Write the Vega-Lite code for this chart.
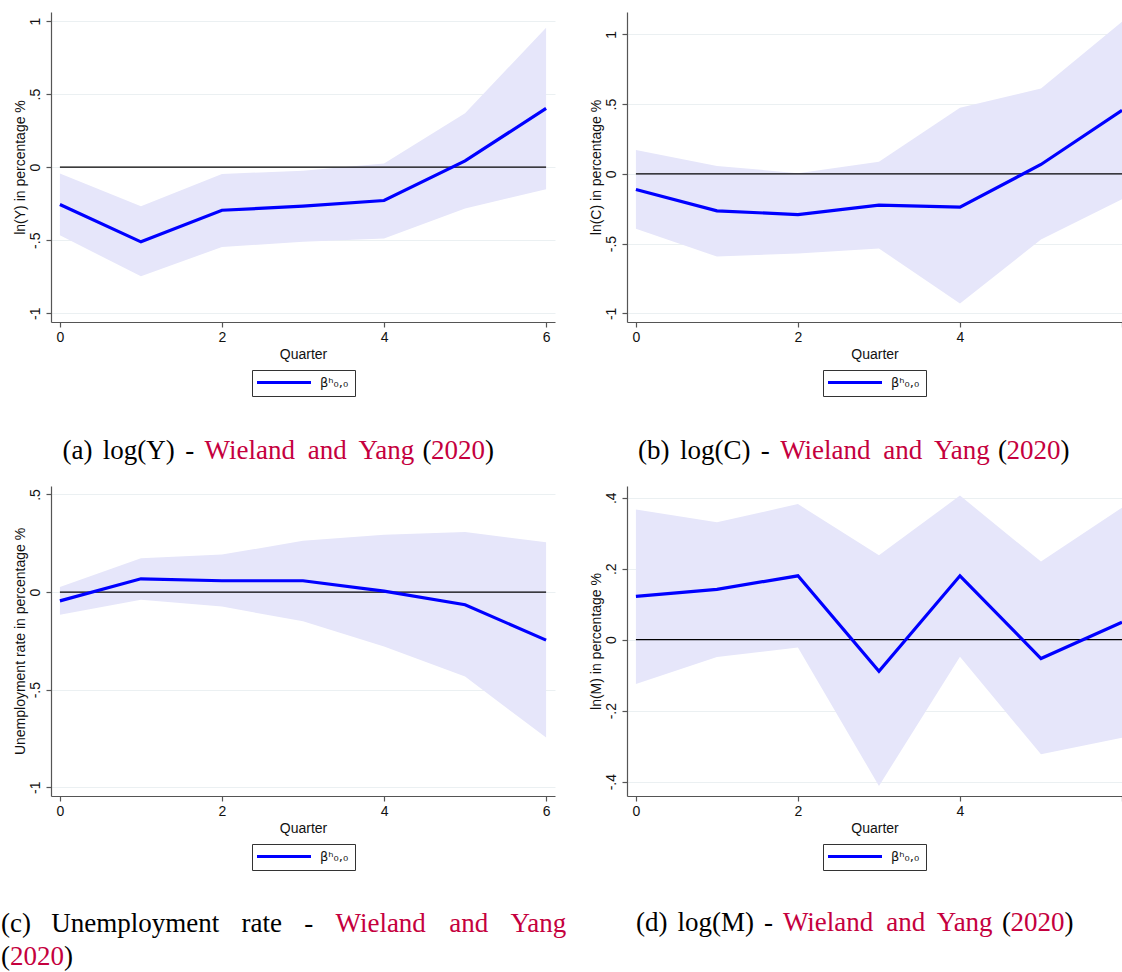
{
  "$schema": "https://vega.github.io/schema/vega-lite/v6.json",
  "background": "white",
  "padding": {"left": 0, "top": 12, "right": 0, "bottom": 0},
  "datasets": {
    "one": [{}],
    "ly": [
      {"q": 0, "est": -0.256, "lo": -0.466, "hi": -0.043},
      {"q": 1, "est": -0.511, "lo": -0.747, "hi": -0.267},
      {"q": 2, "est": -0.295, "lo": -0.546, "hi": -0.046},
      {"q": 3, "est": -0.267, "lo": -0.511, "hi": -0.025},
      {"q": 4, "est": -0.228, "lo": -0.489, "hi": 0.025},
      {"q": 5, "est": 0.043, "lo": -0.283, "hi": 0.368},
      {"q": 6, "est": 0.402, "lo": -0.151, "hi": 0.954}
    ],
    "lc": [
      {"q": 0, "est": -0.112, "lo": -0.394, "hi": 0.170},
      {"q": 1, "est": -0.265, "lo": -0.593, "hi": 0.057},
      {"q": 2, "est": -0.292, "lo": -0.571, "hi": 0.005},
      {"q": 3, "est": -0.225, "lo": -0.535, "hi": 0.086},
      {"q": 4, "est": -0.239, "lo": -0.929, "hi": 0.473},
      {"q": 5, "est": 0.067, "lo": -0.471, "hi": 0.612},
      {"q": 6, "est": 0.456, "lo": -0.182, "hi": 1.090}
    ],
    "ur": [
      {"q": 0, "est": -0.045, "lo": -0.116, "hi": 0.026},
      {"q": 1, "est": 0.068, "lo": -0.039, "hi": 0.173},
      {"q": 2, "est": 0.058, "lo": -0.074, "hi": 0.192},
      {"q": 3, "est": 0.058, "lo": -0.150, "hi": 0.263},
      {"q": 4, "est": 0.005, "lo": -0.279, "hi": 0.294},
      {"q": 5, "est": -0.065, "lo": -0.433, "hi": 0.308},
      {"q": 6, "est": -0.246, "lo": -0.745, "hi": 0.255}
    ],
    "lm": [
      {"q": 0, "est": 0.122, "lo": -0.125, "hi": 0.367},
      {"q": 1, "est": 0.142, "lo": -0.049, "hi": 0.331},
      {"q": 2, "est": 0.180, "lo": -0.022, "hi": 0.382},
      {"q": 3, "est": -0.089, "lo": -0.412, "hi": 0.238},
      {"q": 4, "est": 0.180, "lo": -0.048, "hi": 0.406},
      {"q": 5, "est": -0.053, "lo": -0.323, "hi": 0.220},
      {"q": 6, "est": 0.049, "lo": -0.276, "hi": 0.372}
    ]
  },
  "columns": 2,
  "spacing": {"row": 164, "column": 72},
  "bounds": "flush",
  "resolve": {"scale": {"x": "independent", "y": "independent", "color": "independent"}, "legend": {"color": "independent"}},
  "concat": [
    {
      "width": 504, "height": 310,
      "data": {"name": "ly"},
      "layer": [
        {"mark": {"type": "area", "color": "#e6e6fa", "opacity": 1},
         "encoding": {
           "x": {"field": "q", "type": "quantitative", "scale": {"domain": [-0.11, 6.11], "nice": false, "zero": false}, "axis": {"title": "Quarter", "values": [0, 2, 4, 6], "format": "d"}},
           "y": {"field": "lo", "type": "quantitative", "scale": {"domain": [-1.0595, 1.0616], "nice": false, "zero": false}, "axis": {"title": "ln(Y) in percentage %", "values": [-1, -0.5, 0, 0.5, 1], "labelExpr": "replace('' + datum.value, '0.', '.')"}},
           "y2": {"field": "hi"}
         }},
        {"data": {"name": "one"}, "mark": {"type": "rule", "color": "#000000", "strokeWidth": 1.3}, "encoding": {"x": {"datum": 0}, "x2": {"datum": 6}, "y": {"datum": 0}}},
        {"mark": {"type": "line", "strokeWidth": 3.2},
         "encoding": {
           "x": {"field": "q", "type": "quantitative"},
           "y": {"field": "est", "type": "quantitative"},
           "color": {"datum": "β\u02b0\u2080,\u2080", "type": "nominal", "scale": {"range": ["#0000ff"]}, "legend": {"title": null, "symbolType": "M-1.667,0H10.333", "symbolSize": 81, "symbolStrokeWidth": 3.2, "labelOffset": 49, "symbolOffset": 0}}
         }},
        {"data": {"name": "one"}, "mark": {"type": "text", "text": "(a)", "align": "left", "baseline": "alphabetic", "font": "Liberation Serif", "fontSize": 27, "color": "#000000"}, "encoding": {"x": {"datum": 0.0307}, "y": {"datum": -1.9935}}},
        {"data": {"name": "one"}, "mark": {"type": "text", "text": "log(Y)", "align": "left", "baseline": "alphabetic", "font": "Liberation Serif", "fontSize": 27, "color": "#000000"}, "encoding": {"x": {"datum": 0.5293}, "y": {"datum": -1.9935}}},
        {"data": {"name": "one"}, "mark": {"type": "text", "text": "-", "align": "left", "baseline": "alphabetic", "font": "Liberation Serif", "fontSize": 27, "color": "#000000"}, "encoding": {"x": {"datum": 1.5462}, "y": {"datum": -1.9935}}},
        {"data": {"name": "one"}, "mark": {"type": "text", "text": "Wieland", "align": "left", "baseline": "alphabetic", "font": "Liberation Serif", "fontSize": 27, "color": "#c5003e"}, "encoding": {"x": {"datum": 1.7856}, "y": {"datum": -1.9935}}},
        {"data": {"name": "one"}, "mark": {"type": "text", "text": "and", "align": "left", "baseline": "alphabetic", "font": "Liberation Serif", "fontSize": 27, "color": "#c5003e"}, "encoding": {"x": {"datum": 3.0592}, "y": {"datum": -1.9935}}},
        {"data": {"name": "one"}, "mark": {"type": "text", "text": "Yang", "align": "left", "baseline": "alphabetic", "font": "Liberation Serif", "fontSize": 27, "color": "#c5003e"}, "encoding": {"x": {"datum": 3.6849}, "y": {"datum": -1.9935}}},
        {"data": {"name": "one"}, "mark": {"type": "text", "text": "(", "align": "left", "baseline": "alphabetic", "font": "Liberation Serif", "fontSize": 27, "color": "#000000"}, "encoding": {"x": {"datum": 4.4735}, "y": {"datum": -1.9935}}},
        {"data": {"name": "one"}, "mark": {"type": "text", "text": "2020", "align": "left", "baseline": "alphabetic", "font": "Liberation Serif", "fontSize": 27, "color": "#c5003e"}, "encoding": {"x": {"datum": 4.5796}, "y": {"datum": -1.9935}}},
        {"data": {"name": "one"}, "mark": {"type": "text", "text": ")", "align": "left", "baseline": "alphabetic", "font": "Liberation Serif", "fontSize": 27, "color": "#000000"}, "encoding": {"x": {"datum": 5.2460}, "y": {"datum": -1.9935}}}
      ]
    },
    {
      "width": 495, "height": 310,
      "data": {"name": "lc"},
      "layer": [
        {"mark": {"type": "area", "color": "#e6e6fa", "opacity": 1},
         "encoding": {
           "x": {"field": "q", "type": "quantitative", "scale": {"domain": [-0.11, 6.0], "nice": false, "zero": false}, "axis": {"title": "Quarter", "values": [0, 2, 4, 6], "format": "d", "labelExpr": "datum.value == 6 ? '' : datum.label"}},
           "y": {"field": "lo", "type": "quantitative", "scale": {"domain": [-1.062, 1.16], "nice": false, "zero": false}, "axis": {"title": "ln(C) in percentage %", "values": [-1, -0.5, 0, 0.5, 1], "labelExpr": "replace('' + datum.value, '0.', '.')"}},
           "y2": {"field": "hi"}
         }},
        {"data": {"name": "one"}, "mark": {"type": "rule", "color": "#000000", "strokeWidth": 1.3}, "encoding": {"x": {"datum": 0}, "x2": {"datum": 6}, "y": {"datum": 0}}},
        {"mark": {"type": "line", "strokeWidth": 3.2},
         "encoding": {
           "x": {"field": "q", "type": "quantitative"},
           "y": {"field": "est", "type": "quantitative"},
           "color": {"datum": "β\u02b0\u2080,\u2080", "type": "nominal", "scale": {"range": ["#0000ff"]}, "legend": {"title": null, "symbolType": "M-1.667,0H10.333", "symbolSize": 81, "symbolStrokeWidth": 3.2, "labelOffset": 49, "symbolOffset": 0}}
         }},
        {"data": {"name": "one"}, "mark": {"type": "text", "text": "(b)", "align": "left", "baseline": "alphabetic", "font": "Liberation Serif", "fontSize": 27, "color": "#000000"}, "encoding": {"x": {"datum": 0.0258}, "y": {"datum": -2.0405}}},
        {"data": {"name": "one"}, "mark": {"type": "text", "text": "log(C)", "align": "left", "baseline": "alphabetic", "font": "Liberation Serif", "fontSize": 27, "color": "#000000"}, "encoding": {"x": {"datum": 0.5428}, "y": {"datum": -2.0405}}},
        {"data": {"name": "one"}, "mark": {"type": "text", "text": "-", "align": "left", "baseline": "alphabetic", "font": "Liberation Serif", "fontSize": 27, "color": "#000000"}, "encoding": {"x": {"datum": 1.5412}, "y": {"datum": -2.0405}}},
        {"data": {"name": "one"}, "mark": {"type": "text", "text": "Wieland", "align": "left", "baseline": "alphabetic", "font": "Liberation Serif", "fontSize": 27, "color": "#c5003e"}, "encoding": {"x": {"datum": 1.7807}, "y": {"datum": -2.0405}}},
        {"data": {"name": "one"}, "mark": {"type": "text", "text": "and", "align": "left", "baseline": "alphabetic", "font": "Liberation Serif", "fontSize": 27, "color": "#c5003e"}, "encoding": {"x": {"datum": 3.0543}, "y": {"datum": -2.0405}}},
        {"data": {"name": "one"}, "mark": {"type": "text", "text": "Yang", "align": "left", "baseline": "alphabetic", "font": "Liberation Serif", "fontSize": 27, "color": "#c5003e"}, "encoding": {"x": {"datum": 3.6800}, "y": {"datum": -2.0405}}},
        {"data": {"name": "one"}, "mark": {"type": "text", "text": "(", "align": "left", "baseline": "alphabetic", "font": "Liberation Serif", "fontSize": 27, "color": "#000000"}, "encoding": {"x": {"datum": 4.4686}, "y": {"datum": -2.0405}}},
        {"data": {"name": "one"}, "mark": {"type": "text", "text": "2020", "align": "left", "baseline": "alphabetic", "font": "Liberation Serif", "fontSize": 27, "color": "#c5003e"}, "encoding": {"x": {"datum": 4.5747}, "y": {"datum": -2.0405}}},
        {"data": {"name": "one"}, "mark": {"type": "text", "text": ")", "align": "left", "baseline": "alphabetic", "font": "Liberation Serif", "fontSize": 27, "color": "#000000"}, "encoding": {"x": {"datum": 5.2411}, "y": {"datum": -2.0405}}}
      ]
    },
    {
      "width": 504, "height": 310,
      "data": {"name": "ur"},
      "layer": [
        {"mark": {"type": "area", "color": "#e6e6fa", "opacity": 1},
         "encoding": {
           "x": {"field": "q", "type": "quantitative", "scale": {"domain": [-0.11, 6.11], "nice": false, "zero": false}, "axis": {"title": "Quarter", "values": [0, 2, 4, 6], "format": "d"}},
           "y": {"field": "lo", "type": "quantitative", "scale": {"domain": [-1.0446, 0.5435], "nice": false, "zero": false}, "axis": {"title": "Unemployment rate in percentage %", "values": [-1, -0.5, 0, 0.5], "labelExpr": "replace('' + datum.value, '0.', '.')"}},
           "y2": {"field": "hi"}
         }},
        {"data": {"name": "one"}, "mark": {"type": "rule", "color": "#000000", "strokeWidth": 1.3}, "encoding": {"x": {"datum": 0}, "x2": {"datum": 6}, "y": {"datum": 0}}},
        {"mark": {"type": "line", "strokeWidth": 3.2},
         "encoding": {
           "x": {"field": "q", "type": "quantitative"},
           "y": {"field": "est", "type": "quantitative"},
           "color": {"datum": "β\u02b0\u2080,\u2080", "type": "nominal", "scale": {"range": ["#0000ff"]}, "legend": {"title": null, "symbolType": "M-1.667,0H10.333", "symbolSize": 81, "symbolStrokeWidth": 3.2, "labelOffset": 49, "symbolOffset": 0}}
         }},
        {"data": {"name": "one"}, "mark": {"type": "text", "text": "(c)", "align": "left", "baseline": "alphabetic", "font": "Liberation Serif", "fontSize": 27, "color": "#000000"}, "encoding": {"x": {"datum": -0.7271}, "y": {"datum": -1.7388}}},
        {"data": {"name": "one"}, "mark": {"type": "text", "text": "Unemployment", "align": "left", "baseline": "alphabetic", "font": "Liberation Serif", "fontSize": 27, "color": "#000000"}, "encoding": {"x": {"datum": -0.1069}, "y": {"datum": -1.7388}}},
        {"data": {"name": "one"}, "mark": {"type": "text", "text": "rate", "align": "left", "baseline": "alphabetic", "font": "Liberation Serif", "fontSize": 27, "color": "#000000"}, "encoding": {"x": {"datum": 2.2410}, "y": {"datum": -1.7388}}},
        {"data": {"name": "one"}, "mark": {"type": "text", "text": "-", "align": "left", "baseline": "alphabetic", "font": "Liberation Serif", "fontSize": 27, "color": "#000000"}, "encoding": {"x": {"datum": 3.0154}, "y": {"datum": -1.7388}}},
        {"data": {"name": "one"}, "mark": {"type": "text", "text": "Wieland", "align": "left", "baseline": "alphabetic", "font": "Liberation Serif", "fontSize": 27, "color": "#c5003e"}, "encoding": {"x": {"datum": 3.4011}, "y": {"datum": -1.7388}}},
        {"data": {"name": "one"}, "mark": {"type": "text", "text": "and", "align": "left", "baseline": "alphabetic", "font": "Liberation Serif", "fontSize": 27, "color": "#c5003e"}, "encoding": {"x": {"datum": 4.8049}, "y": {"datum": -1.7388}}},
        {"data": {"name": "one"}, "mark": {"type": "text", "text": "Yang", "align": "left", "baseline": "alphabetic", "font": "Liberation Serif", "fontSize": 27, "color": "#c5003e"}, "encoding": {"x": {"datum": 5.5608}, "y": {"datum": -1.7388}}},
        {"data": {"name": "one"}, "mark": {"type": "text", "text": "(", "align": "left", "baseline": "alphabetic", "font": "Liberation Serif", "fontSize": 27, "color": "#000000"}, "encoding": {"x": {"datum": -0.7271}, "y": {"datum": -1.9104}}},
        {"data": {"name": "one"}, "mark": {"type": "text", "text": "2020", "align": "left", "baseline": "alphabetic", "font": "Liberation Serif", "fontSize": 27, "color": "#c5003e"}, "encoding": {"x": {"datum": -0.6160}, "y": {"datum": -1.9104}}},
        {"data": {"name": "one"}, "mark": {"type": "text", "text": ")", "align": "left", "baseline": "alphabetic", "font": "Liberation Serif", "fontSize": 27, "color": "#000000"}, "encoding": {"x": {"datum": 0.0504}, "y": {"datum": -1.9104}}}
      ]
    },
    {
      "width": 495, "height": 310,
      "data": {"name": "lm"},
      "layer": [
        {"mark": {"type": "area", "color": "#e6e6fa", "opacity": 1},
         "encoding": {
           "x": {"field": "q", "type": "quantitative", "scale": {"domain": [-0.11, 6.0], "nice": false, "zero": false}, "axis": {"title": "Quarter", "values": [0, 2, 4, 6], "format": "d", "labelExpr": "datum.value == 6 ? '' : datum.label"}},
           "y": {"field": "lo", "type": "quantitative", "scale": {"domain": [-0.4403, 0.433], "nice": false, "zero": false}, "axis": {"title": "ln(M) in percentage %", "values": [-0.4, -0.2, 0, 0.2, 0.4], "labelExpr": "replace('' + datum.value, '0.', '.')"}},
           "y2": {"field": "hi"}
         }},
        {"data": {"name": "one"}, "mark": {"type": "rule", "color": "#000000", "strokeWidth": 1.3}, "encoding": {"x": {"datum": 0}, "x2": {"datum": 6}, "y": {"datum": 0}}},
        {"mark": {"type": "line", "strokeWidth": 3.2},
         "encoding": {
           "x": {"field": "q", "type": "quantitative"},
           "y": {"field": "est", "type": "quantitative"},
           "color": {"datum": "β\u02b0\u2080,\u2080", "type": "nominal", "scale": {"range": ["#0000ff"]}, "legend": {"title": null, "symbolType": "M-1.667,0H10.333", "symbolSize": 81, "symbolStrokeWidth": 3.2, "labelOffset": 49, "symbolOffset": 0}}
         }},
        {"data": {"name": "one"}, "mark": {"type": "text", "text": "(d)", "align": "left", "baseline": "alphabetic", "font": "Liberation Serif", "fontSize": 27, "color": "#000000"}, "encoding": {"x": {"datum": 0.0011}, "y": {"datum": -0.8219}}},
        {"data": {"name": "one"}, "mark": {"type": "text", "text": "log(M)", "align": "left", "baseline": "alphabetic", "font": "Liberation Serif", "fontSize": 27, "color": "#000000"}, "encoding": {"x": {"datum": 0.5132}, "y": {"datum": -0.8219}}},
        {"data": {"name": "one"}, "mark": {"type": "text", "text": "-", "align": "left", "baseline": "alphabetic", "font": "Liberation Serif", "fontSize": 27, "color": "#000000"}, "encoding": {"x": {"datum": 1.5807}, "y": {"datum": -0.8219}}},
        {"data": {"name": "one"}, "mark": {"type": "text", "text": "Wieland", "align": "left", "baseline": "alphabetic", "font": "Liberation Serif", "fontSize": 27, "color": "#c5003e"}, "encoding": {"x": {"datum": 1.8152}, "y": {"datum": -0.8219}}},
        {"data": {"name": "one"}, "mark": {"type": "text", "text": "and", "align": "left", "baseline": "alphabetic", "font": "Liberation Serif", "fontSize": 27, "color": "#c5003e"}, "encoding": {"x": {"datum": 3.0888}, "y": {"datum": -0.8219}}},
        {"data": {"name": "one"}, "mark": {"type": "text", "text": "Yang", "align": "left", "baseline": "alphabetic", "font": "Liberation Serif", "fontSize": 27, "color": "#c5003e"}, "encoding": {"x": {"datum": 3.7145}, "y": {"datum": -0.8219}}},
        {"data": {"name": "one"}, "mark": {"type": "text", "text": "(", "align": "left", "baseline": "alphabetic", "font": "Liberation Serif", "fontSize": 27, "color": "#000000"}, "encoding": {"x": {"datum": 4.5179}, "y": {"datum": -0.8219}}},
        {"data": {"name": "one"}, "mark": {"type": "text", "text": "2020", "align": "left", "baseline": "alphabetic", "font": "Liberation Serif", "fontSize": 27, "color": "#c5003e"}, "encoding": {"x": {"datum": 4.6240}, "y": {"datum": -0.8219}}},
        {"data": {"name": "one"}, "mark": {"type": "text", "text": ")", "align": "left", "baseline": "alphabetic", "font": "Liberation Serif", "fontSize": 27, "color": "#000000"}, "encoding": {"x": {"datum": 5.2905}, "y": {"datum": -0.8219}}}
      ]
    }
  ],
  "config": {
    "font": "Liberation Sans",
    "view": {"stroke": null},
    "axis": {
      "labelFont": "Liberation Sans", "labelFontSize": 14, "labelColor": "#111111",
      "titleFont": "Liberation Sans", "titleFontSize": 14, "titleFontWeight": "normal", "titleColor": "#111111",
      "domainColor": "#555555", "domainWidth": 1.2, "tickColor": "#555555", "tickWidth": 1.2, "tickSize": 5, "grid": false
    },
    "axisX": {"labelPadding": 3, "titlePadding": 3, "labelFlush": false, "labelOverlap": false},
    "axisY": {"labelAngle": 270, "labelAlign": "center", "labelBaseline": "bottom", "labelPadding": 4, "titlePadding": 1, "grid": true, "gridColor": "#ebf0f2", "gridWidth": 1, "labelOverlap": false, "labelFlush": false},
    "legend": {
      "orient": "bottom", "offset": 9, "padding": 6, "strokeColor": "#333333", "fillColor": "#ffffff",
      "labelFont": "DejaVu Sans", "labelFontSize": 13, "labelColor": "#111111",
      "layout": {"bottom": {"anchor": "middle"}}
    }
  }
}
